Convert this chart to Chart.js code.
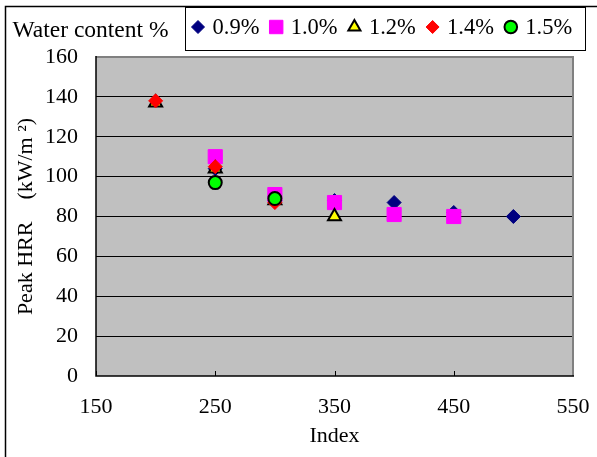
<!DOCTYPE html>
<html><head><meta charset="utf-8">
<script src="https://cdn.jsdelivr.net/npm/chart.js@4/dist/chart.umd.min.js"></script>
<style>html,body{margin:0;padding:0;background:#fff}#wrap{width:597px;height:457px}</style>
</head><body><div id="wrap"><canvas id="c" width="597" height="457"></canvas></div>
<script>
// ---- data ----
const seriesLabels = ['0.9%', '1.0%', '1.2%', '1.4%', '1.5%'];
const x09 = [250, 300, 350, 400, 450, 500];
const y09 = [104, 88, 88, 87, 82, 80];
const x10 = [250, 300, 350, 400, 450];
const y10 = [110, 91, 87, 81, 80];
const x12 = [200, 250, 300, 350];
const y12 = [137, 104, 88, 80];
const x14 = [200, 250, 300];
const y14 = [138, 105, 87];
const x15 = [250, 300];
const y15 = [97, 89];
const xTicks = [150, 250, 350, 450, 550];
const yTicks = [0, 20, 40, 60, 80, 100, 120, 140, 160];
const legendTitle = 'Water content %';
const xTitle = 'Index';
const yTitle = 'Peak HRR    (kW/m \u00B2)';

const FONT = "'Liberation Serif', 'Times New Roman', serif";
const pts = (xs, ys) => xs.map((x, i) => ({x, y: ys[i]}));

const styles = [
  {pointStyle: 'rectRot', bg: '#000080', bc: '#000080', bw: 1, r: 7, order: 5},
  {pointStyle: 'rect', bg: '#FF00FF', bc: '#FF00FF', bw: 1, r: 10, order: 4},
  {pointStyle: 'triangle', bg: '#FFFF00', bc: '#000000', bw: 2, r: 7.5, order: 3},
  {pointStyle: 'rectRot', bg: '#FF0000', bc: '#FF0000', bw: 1, r: 7, order: 2},
  {pointStyle: 'circle', bg: '#00FF00', bc: '#000000', bw: 2, r: 6.5, order: 1}
];
const allData = [pts(x09, y09), pts(x10, y10), pts(x12, y12), pts(x14, y14), pts(x15, y15)];

const datasets = allData.map((d, i) => ({
  label: seriesLabels[i],
  data: d,
  showLine: false,
  pointStyle: styles[i].pointStyle,
  backgroundColor: styles[i].bg,
  borderColor: styles[i].bc,
  pointBorderWidth: styles[i].bw,
  pointRadius: styles[i].r,
  pointHoverRadius: styles[i].r,
  order: styles[i].order
}));

function drawMarker(ctx, st, x, y, r) {
  ctx.save();
  ctx.fillStyle = st.bg; ctx.strokeStyle = st.bc; ctx.lineWidth = st.bw;
  ctx.beginPath();
  if (st.pointStyle === 'rectRot') {
    ctx.moveTo(x, y - r); ctx.lineTo(x + r, y); ctx.lineTo(x, y + r); ctx.lineTo(x - r, y); ctx.closePath();
  } else if (st.pointStyle === 'rect') {
    const s = r * Math.SQRT1_2; ctx.rect(x - s, y - s, 2 * s, 2 * s);
  } else if (st.pointStyle === 'triangle') {
    for (let k = 0; k < 3; k++) {
      const a = -Math.PI / 2 + k * 2 * Math.PI / 3;
      const px = x + Math.cos(a) * r, py = y + Math.sin(a) * r;
      k ? ctx.lineTo(px, py) : ctx.moveTo(px, py);
    }
    ctx.closePath();
  } else {
    ctx.arc(x, y, r, 0, Math.PI * 2);
  }
  ctx.fill(); ctx.stroke();
  ctx.restore();
}

const decor = {
  id: 'decor',
  beforeDraw(chart) {
    const {ctx, chartArea: a} = chart;
    ctx.save();
    ctx.fillStyle = '#fff';
    ctx.fillRect(0, 0, chart.width, chart.height);
    ctx.fillStyle = '#C0C0C0';
    ctx.fillRect(a.left, a.top, a.right - a.left, a.bottom - a.top);
    ctx.restore();
  },
  afterDatasetsDraw(chart) {
    const {ctx, chartArea: a, scales} = chart;
    ctx.save();
    // x tick marks inside
    ctx.strokeStyle = '#000'; ctx.lineWidth = 1;
    xTicks.forEach(v => {
      const px = Math.round(scales.x.getPixelForValue(v)) + 0.5;
      ctx.beginPath(); ctx.moveTo(px, a.bottom); ctx.lineTo(px, a.bottom - 5); ctx.stroke();
    });
    // plot border
    ctx.strokeStyle = '#808080'; ctx.lineWidth = 2;
    ctx.beginPath(); ctx.moveTo(a.left, a.top); ctx.lineTo(a.right, a.top); ctx.lineTo(a.right, a.bottom); ctx.stroke();
    ctx.strokeStyle = '#000'; ctx.lineWidth = 1.5;
    ctx.beginPath(); ctx.moveTo(a.left, a.top - 1); ctx.lineTo(a.left, a.bottom); ctx.lineTo(a.right + 1, a.bottom); ctx.stroke();
    // outer border
    ctx.lineWidth = 1.5;
    ctx.beginPath(); ctx.moveTo(5.5, chart.height); ctx.lineTo(5.5, 6.5); ctx.lineTo(chart.width, 6.5); ctx.stroke();
    // legend
    ctx.fillStyle = '#000';
    ctx.font = '23.5px ' + FONT;
    ctx.textBaseline = 'alphabetic'; ctx.textAlign = 'left';
    ctx.fillText(legendTitle, 12.5, 36.5);
    ctx.fillStyle = '#fff';
    ctx.fillRect(185.5, 7.5, 400, 43);
    ctx.strokeStyle = '#000'; ctx.lineWidth = 1;
    ctx.strokeRect(185.5, 7.5, 400, 43);
    ctx.font = '22.5px ' + FONT;
    const legendR = [6.5, 9.5, 7, 6.5, 6.3];
    seriesLabels.forEach((lab, i) => {
      const cx = 198 + i * 78.2;
      drawMarker(ctx, styles[i], cx, 27, legendR[i]);
      ctx.fillStyle = '#000';
      ctx.fillText(lab, cx + 14.5, 33.8);
    });
    ctx.restore();
  }
};

Chart.defaults.font.family = FONT;
Chart.defaults.font.size = 22;
Chart.defaults.color = '#000';

new Chart(document.getElementById('c'), {
  type: 'scatter',
  data: {datasets},
  options: {
    responsive: false,
    animation: false,
    layout: {padding: {left: 0, top: 57, right: 24, bottom: 0}},
    plugins: {legend: {display: false}, tooltip: {enabled: false}},
    scales: {
      x: {
        type: 'linear', min: 150, max: 550,
        afterBuildTicks: s => { s.ticks = xTicks.map(v => ({value: v})); },
        afterFit: s => { s.height = 81; s.paddingLeft = 0; s.paddingRight = 0; },
        ticks: {padding: 18, font: {size: 22}, color: '#000'},
        grid: {display: false, drawTicks: false},
        border: {display: false},
        title: {display: true, text: xTitle, font: {size: 22}, padding: {top: 0, bottom: 7.4}, color: '#000'}
      },
      y: {
        type: 'linear', min: 0, max: 160,
        afterBuildTicks: s => { s.ticks = yTicks.map(v => ({value: v})); },
        afterFit: s => { s.width = 96; s.paddingTop = 0; s.paddingBottom = 0; },
        ticks: {padding: 18, font: {size: 22}, color: '#000'},
        grid: {
          drawTicks: false,
          color: c => (c.tick && (c.tick.value === 0 || c.tick.value === 160)) ? 'rgba(0,0,0,0)' : '#000',
          lineWidth: 1
        },
        border: {display: false},
        title: {display: true, text: yTitle, font: {size: 22}, padding: {top: 13, bottom: 0}, color: '#000'}
      }
    }
  },
  plugins: [decor]
});
</script>
</body></html>
